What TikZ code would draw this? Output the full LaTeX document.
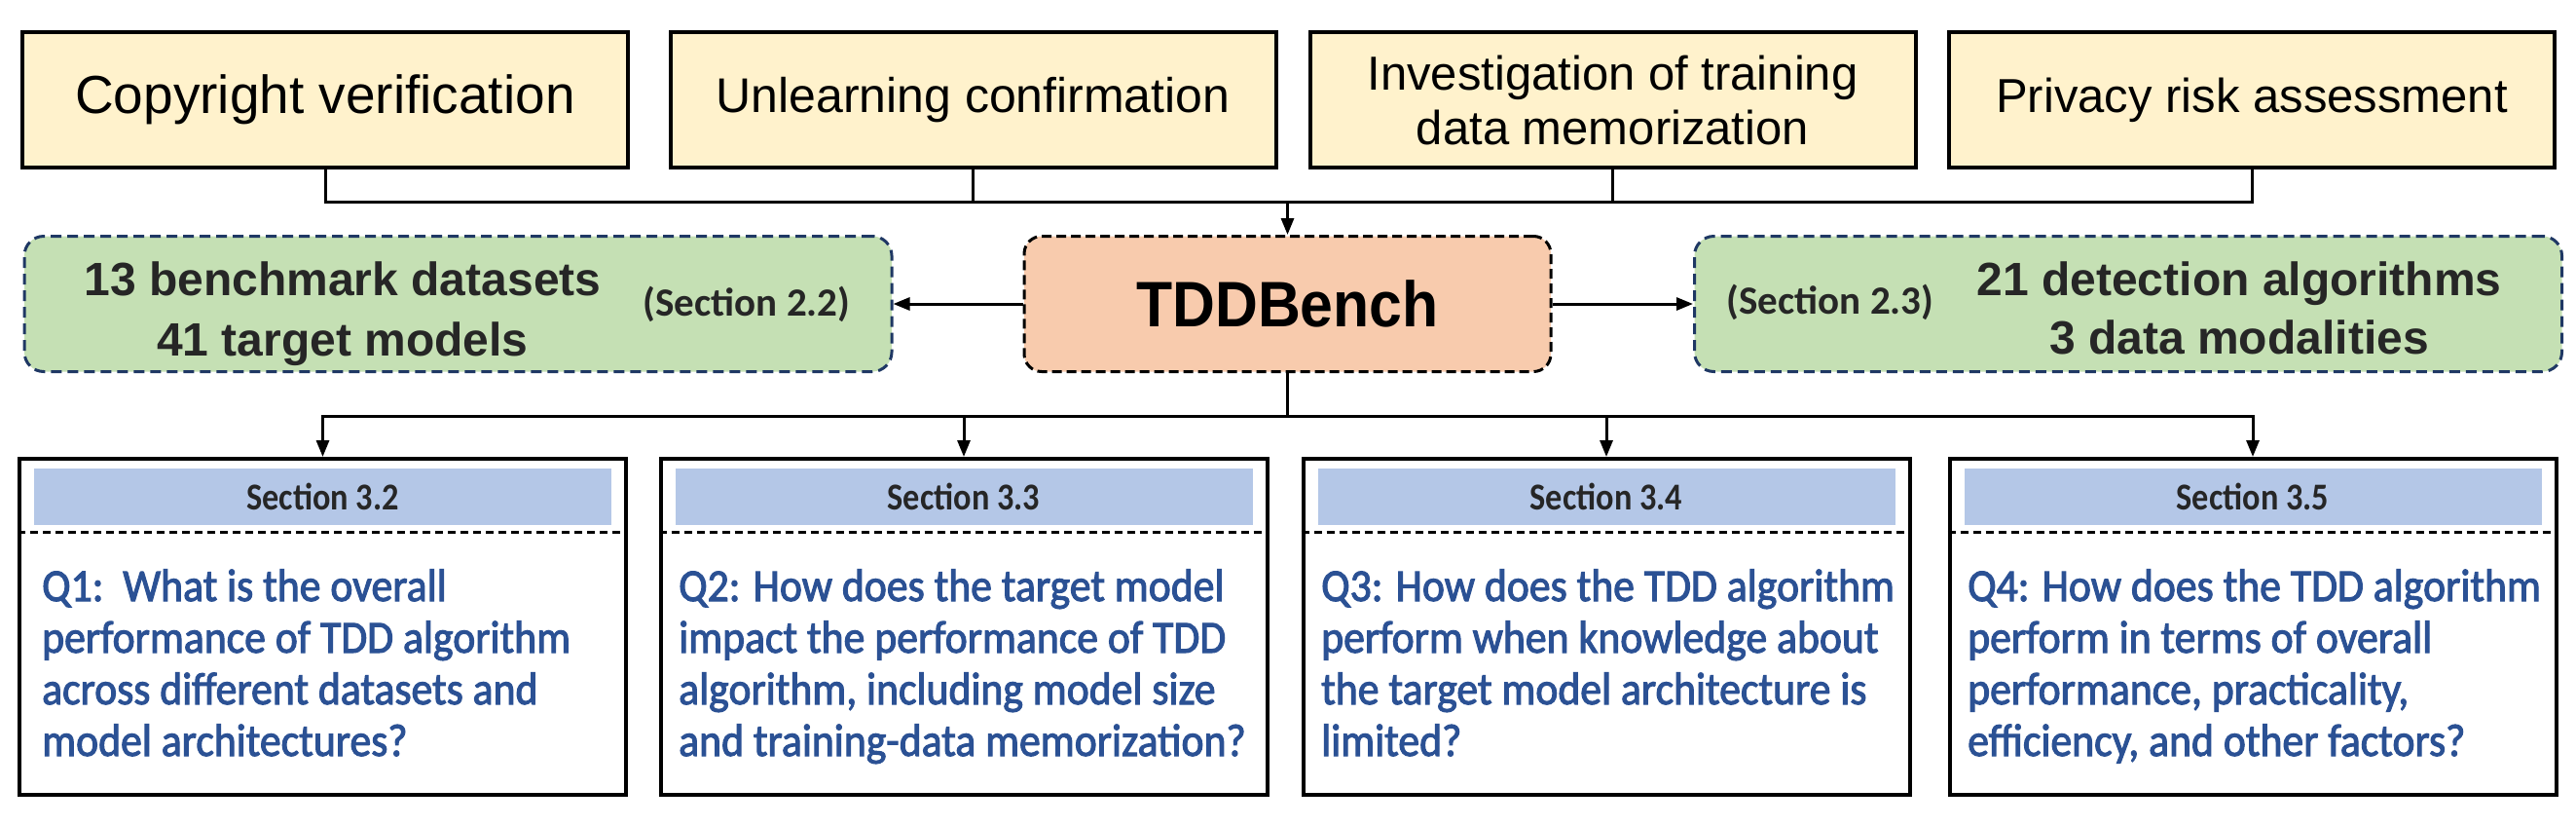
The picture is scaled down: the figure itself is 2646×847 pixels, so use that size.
\documentclass[tikz,border=0pt]{standalone}
\usepackage{fontspec}
\setmainfont{Liberation Sans}
\newfontfamily\calfont{Carlito}
\newfontfamily\hdrfont[FakeStretch=0.88]{Carlito}
\newfontfamily\qfont[FakeBold=2.2,FakeStretch=0.93]{Carlito}
\newfontfamily\tddfont[FakeStretch=0.92]{Liberation Sans}
\usetikzlibrary{arrows.meta}
\definecolor{topfill}{HTML}{FFF2CC}
\definecolor{grn}{HTML}{C5E0B4}
\definecolor{org}{HTML}{F8CBAD}
\definecolor{navy}{HTML}{1F3864}
\definecolor{hdrblue}{HTML}{B4C7E7}
\definecolor{qblue}{HTML}{2B5194}
\definecolor{dtext}{HTML}{262626}
\begin{document}
\begin{tikzpicture}[x=1pt,y=-1pt,
  topbox/.style={draw=black, line width=4pt, fill=topfill, minimum width=622pt, minimum height=139pt, inner sep=0pt, align=center},
  grnbox/.style={draw=navy, line width=3pt, dash pattern=on 11pt off 6pt, fill=grn, rounded corners=20pt, minimum width=891pt, minimum height=139pt, inner sep=0pt},
  tddbox/.style={draw=black, line width=3pt, dash pattern=on 10pt off 5pt, fill=org, rounded corners=18pt, minimum width=541pt, minimum height=139pt, inner sep=0pt, font=\tddfont\bfseries\fontsize{66}{72}\selectfont},
  qbox/.style={draw=black, line width=4pt, fill=white, minimum width=623pt, minimum height=345pt, inner sep=0pt},
  hdr/.style={fill=hdrblue, minimum width=593pt, minimum height=58pt, inner sep=0pt, text=dtext, font=\hdrfont\bfseries\fontsize{39}{44}\selectfont},
  gline/.style={anchor=base, inner sep=0pt, text=dtext, font=\bfseries\fontsize{48}{56}\selectfont},
  gsec/.style={inner sep=0pt, text=dtext, font=\calfont\bfseries\fontsize{41}{46}\selectfont},
  qline/.style={anchor=base west, inner sep=0pt, text=qblue, font=\qfont\fontsize{47}{53}\selectfont},
  sepline/.style={line width=3pt, dash pattern=on 8pt off 5pt},
  conn/.style={line width=3pt},
  arr/.style={line width=3pt, -{Triangle[length=17pt,width=13pt]}}
]
\useasboundingbox (0,0) rectangle (2646,847);

% top boxes
\node[topbox, font=\fontsize{55}{62}\selectfont] (t1) at (334,102.5) {Copyright verification};
\node[topbox, font=\fontsize{50}{58}\selectfont] (t2) at (999.5,102.5) {Unlearning confirmation};
\node[topbox, font=\fontsize{49}{56}\selectfont] (t3) at (1656.5,102.5) {Investigation of training\\data memorization};
\node[topbox, font=\fontsize{49}{56}\selectfont] (t4) at (2313,102.5) {Privacy risk assessment};

% middle boxes
\node[grnbox] (g1) at (470.5,312) {};
\node[tddbox] (tdd) at (1322.5,312) {TDDBench};
\node[grnbox] (g2) at (2186,312) {};

\node[gline] (g1a) at (352,303) {13 benchmark datasets};
\node[gline] (g1b) at (352,365) {41 target models};
\node[gsec] (g1s) at (767,312) {(Section 2.2)};
\node[gline] (g2a) at (2300,303) {21 detection algorithms};
\node[gline] (g2b) at (2300,363) {3 data modalities};
\node[gsec] (g2s) at (1880,310) {(Section 2.3)};

% bottom boxes
\node[qbox] (b1) at (331.5,643.5) {};
\node[qbox] (b2) at (990,643.5) {};
\node[qbox] (b3) at (1650,643.5) {};
\node[qbox] (b4) at (2314,643.5) {};

\node[hdr] (h1) at (331.5,510) {Section 3.2};
\node[hdr] (h2) at (990,510) {Section 3.3};
\node[hdr] (h3) at (1650,510) {Section 3.4};
\node[hdr] (h4) at (2314,510) {Section 3.5};

\coordinate (sepy) at (0,546);
\draw[sepline] (b1.west |- sepy) -- (b1.east |- sepy);
\draw[sepline] (b2.west |- sepy) -- (b2.east |- sepy);
\draw[sepline] (b3.west |- sepy) -- (b3.east |- sepy);
\draw[sepline] (b4.west |- sepy) -- (b4.east |- sepy);

\node[qline] (q1a) at (43,617) {Q1:\ \ What is the overall};
\node[qline] (q1b) at (43,670) {performance of TDD algorithm};
\node[qline] (q1c) at (43,723) {across different datasets and};
\node[qline] (q1d) at (43,776) {model architectures?};

\node[qline] (q2a) at (697,617) {Q2: How does the target model};
\node[qline] (q2b) at (697,670) {impact the performance of TDD};
\node[qline] (q2c) at (697,723) {algorithm, including model size};
\node[qline] (q2d) at (697,776) {and training-data memorization?};

\node[qline] (q3a) at (1357,617) {Q3: How does the TDD algorithm};
\node[qline] (q3b) at (1357,670) {perform when knowledge about};
\node[qline] (q3c) at (1357,723) {the target model architecture is};
\node[qline] (q3d) at (1357,776) {limited?};

\node[qline] (q4a) at (2021,617) {Q4: How does the TDD algorithm};
\node[qline] (q4b) at (2021,670) {perform in terms of overall};
\node[qline] (q4c) at (2021,723) {performance, practicality,};
\node[qline] (q4d) at (2021,776) {efficiency, and other factors?};

% connectors
\coordinate (tophub) at (1322,207);
\coordinate (bothub) at (1322,427);
\draw[conn] (t1.south) |- (t4.south |- tophub) -- (t4.south);
\draw[conn] (t2.south) -- (t2.south |- tophub);
\draw[conn] (t3.south) -- (t3.south |- tophub);
\draw[arr] (tdd.north |- tophub) -- (tdd.north);
\draw[arr] (tdd.west) -- (g1.east);
\draw[arr] (tdd.east) -- (g2.west);
\draw[conn] (tdd.south) -- (tdd.south |- bothub);
\draw[arr] (tdd.south |- bothub) -| (b1.north);
\draw[arr] (tdd.south |- bothub) -| (b4.north);
\draw[arr] (b2.north |- bothub) -- (b2.north);
\draw[arr] (b3.north |- bothub) -- (b3.north);
\end{tikzpicture}
\end{document}
